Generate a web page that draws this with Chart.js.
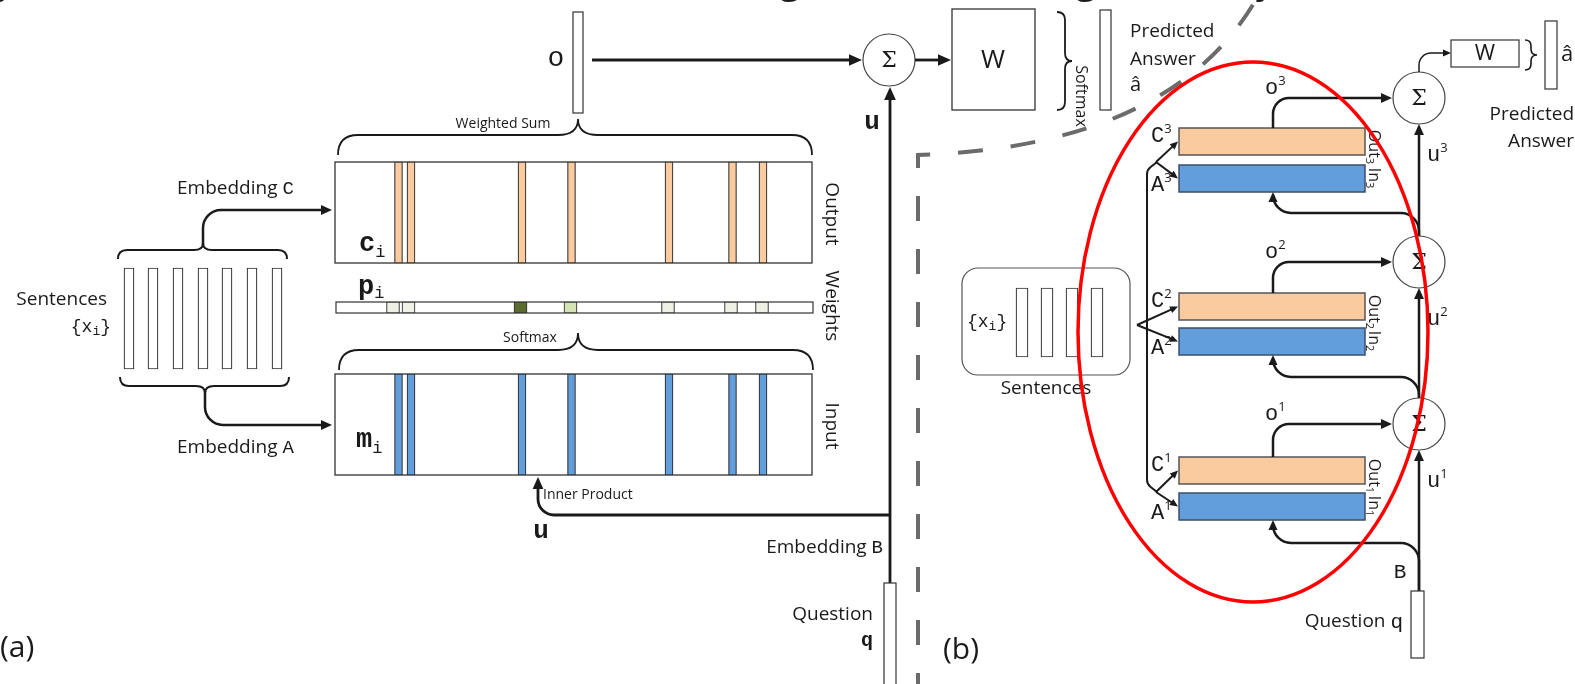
<!DOCTYPE html>
<html>
<head>
<meta charset="utf-8">
<script src="https://cdn.jsdelivr.net/npm/chart.js@4.4.0/dist/chart.umd.min.js"></script>
<style>
html, body { margin: 0; padding: 0; background: #fff; }
#wrap { width: 1575px; height: 684px; position: relative; }
</style>
</head>
<body>
<div id="wrap"><canvas id="diagram"></canvas></div>
<script>
'use strict';

// memory slots: x centre of each stripe in the c_i / m_i boxes
const slotX = [398.5, 411, 522, 571.5, 669, 732.5, 763];
// softmax weights p_i (cell centre and weight)
const weightX = [393, 408.5, 520.5, 570.5, 668, 731, 762];
const weightP = [0.08, 0.08, 0.72, 0.22, 0.05, 0.05, 0.05];
// sentence vectors {x_i}
const sentenceX = [129, 153, 178, 203, 227, 252, 277];
const sentenceXb = [1022, 1047, 1072, 1097];
// hops of panel (b)
const hops = ['1', '2', '3'];

const SANS = '"Open Sans", "Noto Sans", sans-serif';
const MONO = '"Liberation Mono", "DejaVu Sans Mono", monospace';
const SERIF = '"DejaVu Serif", "Liberation Serif", serif';
const INK = '#1a1a1a';

function shade(p) {
    if (p > 0.5) return '#5a6d2e';
    if (p > 0.15) return '#d5e4b4';
    return '#eef1e3';
}

// layout of each hop in panel (b): C rect top, A rect top, sum circle, return line
const hopLayout = {
    '3': {c: 128, a: 165, s: 98, h: 213, from: 236},
    '2': {c: 293, a: 328, s: 262, h: 377, from: 398},
    '1': {c: 457, a: 493, s: 424, h: 543, from: 591}
};
const branchApex = {'3': [1156, 162], '2': [1137, 325], '1': [1156, 492]};

const diagramPlugin = {
    id: 'diagram',
    beforeDatasetsDraw(chart) {
        const {ctx} = chart;
        const X = v => chart.scales.x.getPixelForValue(v);
        const Y = v => chart.scales.y.getPixelForValue(v);
        const box = (x1, y1, x2, y2, fill, stroke, lw) => {
            ctx.fillStyle = fill;
            ctx.fillRect(X(x1), Y(y1), X(x2) - X(x1), Y(y2) - Y(y1));
            ctx.strokeStyle = stroke;
            ctx.lineWidth = lw;
            ctx.strokeRect(X(x1), Y(y1), X(x2) - X(x1), Y(y2) - Y(y1));
        };
        ctx.save();
        box(335, 162, 812, 263, '#fff', '#333', 1.3);
        box(336, 302, 813, 313, '#fff', '#333', 1.2);
        box(335, 374, 812, 475, '#fff', '#333', 1.3);
        ctx.restore();
    },
    afterDatasetsDraw(chart) {
        const {ctx} = chart;
        const X = v => chart.scales.x.getPixelForValue(v);
        const Y = v => chart.scales.y.getPixelForValue(v);

        const rect = (x1, y1, x2, y2, fill, stroke, lw) => {
            ctx.fillStyle = fill;
            ctx.fillRect(X(x1), Y(y1), X(x2) - X(x1), Y(y2) - Y(y1));
            ctx.strokeStyle = stroke;
            ctx.lineWidth = lw || 1.2;
            ctx.strokeRect(X(x1), Y(y1), X(x2) - X(x1), Y(y2) - Y(y1));
        };
        const poly = (pts, r) => {
            ctx.beginPath();
            ctx.moveTo(X(pts[0][0]), Y(pts[0][1]));
            for (let i = 1; i < pts.length - 1; i++)
                ctx.arcTo(X(pts[i][0]), Y(pts[i][1]), X(pts[i + 1][0]), Y(pts[i + 1][1]), r);
            const last = pts[pts.length - 1];
            ctx.lineTo(X(last[0]), Y(last[1]));
            ctx.stroke();
        };
        const arrow = (pts, r, lw, size) => {
            const n = pts.length;
            const [tx, ty] = pts[n - 1];
            const [px, py] = pts[n - 2];
            const ang = Math.atan2(Y(ty) - Y(py), X(tx) - X(px));
            const len = Math.hypot(X(tx) - X(px), Y(ty) - Y(py));
            const k = (size * 0.8) / len;
            const cut = pts.slice(0, n - 1).concat([[tx - (tx - px) * k, ty - (ty - py) * k]]);
            ctx.strokeStyle = INK;
            ctx.fillStyle = INK;
            ctx.lineWidth = lw;
            poly(cut, r);
            ctx.save();
            ctx.translate(X(tx), Y(ty));
            ctx.rotate(ang);
            ctx.beginPath();
            ctx.moveTo(0, 0);
            ctx.lineTo(-size, -size * 0.45);
            ctx.lineTo(-size, size * 0.45);
            ctx.closePath();
            ctx.fill();
            ctx.restore();
        };
        const text = (s, x, y, font, align) => {
            ctx.font = font;
            ctx.fillStyle = INK;
            ctx.textAlign = align || 'left';
            ctx.textBaseline = 'middle';
            ctx.fillText(s, X(x), Y(y));
        };
        // runs of [string, font, dy]; laid out left to right
        const runs = (parts, x, y, align) => {
            ctx.fillStyle = INK;
            ctx.textBaseline = 'middle';
            ctx.textAlign = 'left';
            let w = 0;
            parts.forEach(p => { ctx.font = p[1]; w += ctx.measureText(p[0]).width; });
            let cx = X(x);
            if (align === 'right') cx -= w;
            if (align === 'center') cx -= w / 2;
            parts.forEach(p => {
                ctx.font = p[1];
                ctx.fillText(p[0], cx, Y(y) + (p[2] || 0));
                cx += ctx.measureText(p[0]).width;
            });
        };
        const rotated = (parts, cx, cy) => {
            ctx.save();
            ctx.translate(X(cx), Y(cy));
            ctx.rotate(Math.PI / 2);
            ctx.fillStyle = INK;
            ctx.textBaseline = 'middle';
            ctx.textAlign = 'left';
            let w = 0;
            parts.forEach(p => { ctx.font = p[1]; w += ctx.measureText(p[0]).width; });
            let x = -w / 2;
            parts.forEach(p => {
                ctx.font = p[1];
                ctx.fillText(p[0], x, p[2] || 0);
                x += ctx.measureText(p[0]).width;
            });
            ctx.restore();
        };
        const braceH = (x1, x2, xm, yTip, yLine, yCusp) => {
            const r = Math.abs(yTip - yLine);
            ctx.beginPath();
            ctx.moveTo(X(x1), Y(yTip));
            ctx.quadraticCurveTo(X(x1), Y(yLine), X(x1 + r), Y(yLine));
            ctx.lineTo(X(xm - r), Y(yLine));
            ctx.quadraticCurveTo(X(xm), Y(yLine), X(xm), Y(yCusp));
            ctx.quadraticCurveTo(X(xm), Y(yLine), X(xm + r), Y(yLine));
            ctx.lineTo(X(x2 - r), Y(yLine));
            ctx.quadraticCurveTo(X(x2), Y(yLine), X(x2), Y(yTip));
            ctx.stroke();
        };
        const braceV = (y1, y2, ym, xTip, xLine, xCusp) => {
            const r = Math.abs(xTip - xLine);
            ctx.beginPath();
            ctx.moveTo(X(xTip), Y(y1));
            ctx.quadraticCurveTo(X(xLine), Y(y1), X(xLine), Y(y1 + r));
            ctx.lineTo(X(xLine), Y(ym - r));
            ctx.quadraticCurveTo(X(xLine), Y(ym), X(xCusp), Y(ym));
            ctx.quadraticCurveTo(X(xLine), Y(ym), X(xLine), Y(ym + r));
            ctx.lineTo(X(xLine), Y(y2 - r));
            ctx.quadraticCurveTo(X(xLine), Y(y2), X(xTip), Y(y2));
            ctx.stroke();
        };
        const circle = (cx, cy, r) => {
            ctx.beginPath();
            ctx.arc(X(cx), Y(cy), X(cx + r) - X(cx), 0, Math.PI * 2);
            ctx.fillStyle = '#fff';
            ctx.fill();
            ctx.strokeStyle = '#444';
            ctx.lineWidth = 1.2;
            ctx.stroke();
            text('\u03A3', cx, cy + 1, '22px ' + SERIF, 'center');
        };

        ctx.save();
        ctx.lineCap = 'butt';

        // title descenders clipped at the top edge
        ctx.font = '40px ' + SANS;
        ctx.fillStyle = INK;
        ctx.textAlign = 'center';
        ctx.textBaseline = 'alphabetic';
        [['y', 6], ['g', 790], ['g', 1086], ['y', 1266]].forEach(g => ctx.fillText(g[0], X(g[1]), Y(-8)));

        // ---------- panel (a) ----------
        ctx.strokeStyle = INK;
        ctx.lineWidth = 2;
        braceH(118, 287, 203, 259, 250, 243);
        arrow([[203, 245], [203, 210], [332, 210]], 18, 2.5, 11);
        ctx.strokeStyle = INK;
        ctx.lineWidth = 2;
        braceH(120, 289, 205, 377, 386, 393);
        arrow([[205, 391], [205, 425], [332, 425]], 18, 2.5, 11);

        ctx.strokeStyle = INK;
        ctx.lineWidth = 1.8;
        braceH(338, 812, 578, 155, 135, 119);
        braceH(339, 813, 578, 370, 350, 333);

        runs([['Embedding ', '19px ' + SANS], ['C', '19px ' + MONO]], 177, 189);
        runs([['Embedding ', '19px ' + SANS], ['A', '19px ' + MONO]], 177, 448);
        text('Sentences', 107, 300, '19px ' + SANS, 'right');
        runs([['{x', '18px ' + MONO], ['i', '13px ' + MONO, 5], ['}', '18px ' + MONO]], 111, 327, 'right');

        runs([['c', 'bold 27px ' + MONO], ['i', '17px ' + MONO, 8]], 359, 244);
        runs([['p', 'bold 27px ' + MONO], ['i', '17px ' + MONO, 6]], 358, 287);
        runs([['m', 'bold 27px ' + MONO], ['i', '17px ' + MONO, 8]], 356, 440);

        text('Weighted Sum', 503, 124, '14px ' + SANS, 'center');
        text('Softmax', 530, 338, '14px ' + SANS, 'center');
        text('Inner Product', 543, 495, '14px ' + SANS);
        rotated([['Output', '19px ' + SANS]], 831, 214);
        rotated([['Weights', '19px ' + SANS]], 831, 306);
        rotated([['Input', '19px ' + SANS]], 831, 426);

        // o vector, sum, W, answer
        rect(573, 12, 583, 113, '#fff', '#333', 1.2);
        text('o', 556, 59, '28px ' + MONO, 'center');
        arrow([[592, 60], [862, 60]], 0, 2.8, 13);
        circle(889, 60, 26);
        arrow([[915, 60], [951, 60]], 0, 2.8, 13);
        rect(952, 9, 1035, 110, '#fff', '#333', 1.3);
        text('W', 993, 61, '26px ' + SANS, 'center');
        ctx.strokeStyle = INK;
        ctx.lineWidth = 1.8;
        braceV(12, 110, 61, 1057, 1065, 1072);
        rotated([['Softmax', '16px ' + SANS]], 1081, 96);
        rect(1100, 10, 1111, 110, '#fff', '#333', 1.2);
        text('Predicted', 1130, 32, '19px ' + SANS);
        text('Answer', 1130, 60, '19px ' + SANS);
        text('\u00E2', 1130, 85, '20px ' + SANS);

        // u path
        arrow([[890, 583], [890, 87]], 0, 2.8, 13);
        arrow([[890, 515], [538, 515], [538, 477]], 16, 2.8, 12);
        text('u', 872, 122, 'bold 26px ' + MONO, 'center');
        text('u', 541, 531, 'bold 26px ' + MONO, 'center');
        rect(884, 583, 896, 700, '#fff', '#333', 1.2);
        runs([['Embedding ', '19px ' + SANS], ['B', '19px ' + MONO]], 883, 548, 'right');
        text('Question', 873, 615, '19px ' + SANS, 'right');
        text('q', 873, 641, 'bold 20px ' + MONO, 'right');
        text('(a)', 0, 648, '30px ' + SANS);

        // ---------- divider ----------
        ctx.save();
        ctx.strokeStyle = '#6b6b6b';
        ctx.lineWidth = 4;
        ctx.setLineDash([25, 28]);
        ctx.beginPath();
        ctx.moveTo(X(918), Y(698));
        ctx.lineTo(X(918), Y(155));
        ctx.bezierCurveTo(X(1080), Y(150), X(1200), Y(100), X(1258), Y(-4));
        ctx.stroke();
        ctx.restore();

        // ---------- panel (b) ----------
        ctx.strokeStyle = '#555';
        ctx.lineWidth = 1.2;
        ctx.beginPath();
        ctx.roundRect(X(962), Y(268), X(1130) - X(962), Y(375) - Y(268), 16);
        ctx.stroke();
        runs([['{x', '18px ' + MONO], ['i', '13px ' + MONO, 5], ['}', '18px ' + MONO]], 967, 322);
        text('Sentences', 1046, 389, '19px ' + SANS, 'center');

        // vertical connector feeding hops 1 and 3
        ctx.strokeStyle = INK;
        ctx.lineWidth = 2;
        poly([[1157, 162], [1147, 170], [1147, 484], [1157, 492]], 9);

        hops.forEach(k => {
            const L = hopLayout[k];
            rect(1179, L.c, 1365, L.c + 27, '#fbcba0', '#555', 1.5);
            rect(1179, L.a, 1365, L.a + 27, '#629edc', '#3b4e63', 1.5);
            const [ax, ay] = branchApex[k];
            arrow([[ax, ay], [1178, L.c + 13.5]], 0, 2, 8);
            arrow([[ax, ay], [1178, L.a + 13.5]], 0, 2, 8);
            runs([['C', '22px ' + MONO], [k, '13px ' + SANS, -7]], 1151, L.c + 8);
            runs([['A', '22px ' + MONO], [k, '13px ' + SANS, -7]], 1151, L.a + 20);
            rotated([['Out', '16px ' + SANS], [k, '11px ' + SANS, 5]], 1374, L.c + 19);
            rotated([['In', '16px ' + SANS], [k, '11px ' + SANS, 5]], 1374, L.a + 13);
            arrow([[1273, L.c], [1273, L.s], [1392, L.s]], 16, 2.5, 11);
            runs([['o', '22px ' + MONO], [k, '13px ' + SANS, -7]], 1265, L.s - 10);
            arrow([[1419, L.from], [1419, L.h], [1273, L.h], [1273, L.a + 27]], 18, 2.5, 10);
            arrow([[1419, L.from], [1419, L.s + 26]], 0, 2.5, 11);
            runs([['u', '22px ' + MONO], [k, '13px ' + SANS, -7]], 1427, L.s + 57);
        });
        hops.forEach(k => circle(1419, hopLayout[k].s, 26));

        // top sum to output W
        ctx.strokeStyle = INK;
        arrow([[1419, 72], [1419, 53], [1451, 53]], 12, 1.5, 8);
        rect(1451, 40, 1519, 67, '#fff', '#333', 1.2);
        text('W', 1485, 54, '22px ' + SANS, 'center');
        ctx.strokeStyle = INK;
        ctx.lineWidth = 1.6;
        braceV(40, 70, 55, 1525, 1531, 1537);
        rect(1545, 21, 1557, 89, '#fff', '#333', 1.2);
        text('\u00E2', 1561, 55, '22px ' + SANS);
        text('Predicted', 1574, 115, '19px ' + SANS, 'right');
        text('Answer', 1574, 142, '19px ' + SANS, 'right');

        rect(1411, 591, 1424, 658, '#fff', '#333', 1.2);
        text('B', 1400, 572, '21px ' + MONO, 'center');
        runs([['Question ', '19px ' + SANS], ['q', '21px ' + MONO]], 1403, 622, 'right');
        text('(b)', 943, 650, '30px ' + SANS);

        // highlight ellipse
        ctx.strokeStyle = '#ff0000';
        ctx.lineWidth = 3.5;
        ctx.beginPath();
        ctx.ellipse(X(1253), Y(332), X(1253 + 175) - X(1253), Y(332 + 270) - Y(332), 0, 0, Math.PI * 2);
        ctx.stroke();

        ctx.restore();
    }
};

const bars = (xs, y0, y1) => xs.map(x => ({x: x, y: [y0, y1]}));

new Chart(document.getElementById('diagram'), {
    type: 'bar',
    data: {
        datasets: [
            {
                label: 'Output c_i',
                data: bars(slotX, 162, 263),
                backgroundColor: '#fbcba0',
                borderColor: '#333',
                borderWidth: 1.2,
                barThickness: 8,
                borderSkipped: false,
                grouped: false
            },
            {
                label: 'Input m_i',
                data: bars(slotX, 374, 475),
                backgroundColor: '#629edc',
                borderColor: '#333',
                borderWidth: 1.2,
                barThickness: 8,
                borderSkipped: false,
                grouped: false
            },
            {
                label: 'Weights p_i',
                data: bars(weightX, 302, 313),
                backgroundColor: weightP.map(shade),
                borderColor: '#333',
                borderWidth: 1.1,
                barThickness: 13,
                borderSkipped: false,
                grouped: false
            },
            {
                label: 'Sentences',
                data: bars(sentenceX, 268, 369),
                backgroundColor: '#fff',
                borderColor: '#333',
                borderWidth: 1.2,
                barThickness: 10,
                borderSkipped: false,
                grouped: false
            },
            {
                label: 'Sentences (b)',
                data: bars(sentenceXb, 288, 357),
                backgroundColor: '#fff',
                borderColor: '#333',
                borderWidth: 1.2,
                barThickness: 12,
                borderSkipped: false,
                grouped: false
            }
        ]
    },
    options: {
        responsive: true,
        maintainAspectRatio: false,
        animation: false,
        events: [],
        layout: {padding: 0},
        plugins: {legend: {display: false}, tooltip: {enabled: false}},
        scales: {
            x: {type: 'linear', min: 0, max: 1575, offset: false, display: false},
            y: {type: 'linear', min: 0, max: 684, reverse: true, display: false}
        }
    },
    plugins: [diagramPlugin]
});
</script>
</body>
</html>
